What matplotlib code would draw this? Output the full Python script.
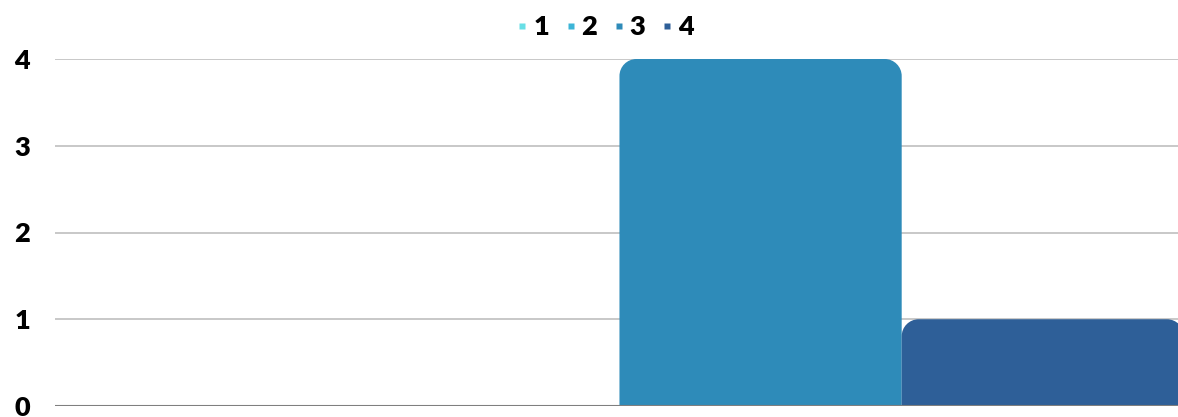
import matplotlib.pyplot as plt
import numpy as np
from matplotlib.path import Path
from matplotlib.patches import PathPatch
from matplotlib.lines import Line2D

plt.rcParams['font.family'] = ['Lato', 'DejaVu Sans']

series = ['1', '2', '3', '4']
values = [0, 0, 4, 1]
colors = ['#68DFE6', '#3CB5D7', '#2E8BB9', '#2E5F98']

fig = plt.figure(figsize=(11.78, 4.17), dpi=100)
ax = fig.add_axes([55 / 1178, 11 / 417, 1 - 55 / 1178, (406 - 59) / 417])

x = np.arange(len(series))
ax.set_xlim(-0.5, 3.479)
ax.set_ylim(0, 4)

# rounded top corners, radius in pixels
r_px = 17
px_x = ax.get_position().width * 1178 / (ax.get_xlim()[1] - ax.get_xlim()[0])
px_y = ax.get_position().height * 417 / 4
rx, ry = r_px / px_x, r_px / px_y
k = 0.5523

bars = ax.bar(x, values, width=1.0, color=colors)
for b, c in zip(bars, colors):
    x0, y0, w, h = b.get_x(), b.get_y(), b.get_width(), b.get_height()
    b.set_visible(False)
    if h <= 0:
        continue
    x1, y1 = x0 + w, y0 + h
    verts = [(x0, y0), (x0, y1 - ry),
             (x0, y1 - ry + k * ry), (x0 + rx - k * rx, y1), (x0 + rx, y1),
             (x1 - rx, y1),
             (x1 - rx + k * rx, y1), (x1, y1 - ry + k * ry), (x1, y1 - ry),
             (x1, y0), (x0, y0)]
    codes = [Path.MOVETO, Path.LINETO,
             Path.CURVE4, Path.CURVE4, Path.CURVE4,
             Path.LINETO,
             Path.CURVE4, Path.CURVE4, Path.CURVE4,
             Path.LINETO, Path.CLOSEPOLY]
    ax.add_patch(PathPatch(Path(verts, codes), facecolor=c, edgecolor='none', zorder=3))

ax.set_yticks([0, 1, 2, 3, 4])
ax.yaxis.grid(True, color='#BFBFBF', linewidth=1.2, zorder=0)
ax.set_axisbelow(True)
ax.axhline(0, color='#7F7F7F', linewidth=1.5, zorder=4)
for s in ax.spines.values():
    s.set_visible(False)
ax.set_xticks([])
ax.tick_params(axis='y', length=0, pad=18, labelsize=19.5)
for t in ax.get_yticklabels():
    t.set_fontweight('heavy')

handles = [Line2D([], [], marker='s', linestyle='none', markersize=4.5,
                  markerfacecolor=c, markeredgecolor='none') for c in colors]
fig.legend(handles, series, loc='center', bbox_to_anchor=(604 / 1178, 1 - 27 / 417),
           ncol=4, frameon=False, handletextpad=0.1, columnspacing=0.5,
           handlelength=0.6, prop={'weight': 'heavy', 'size': 19.5})

fig.savefig('out.png', dpi=100)
